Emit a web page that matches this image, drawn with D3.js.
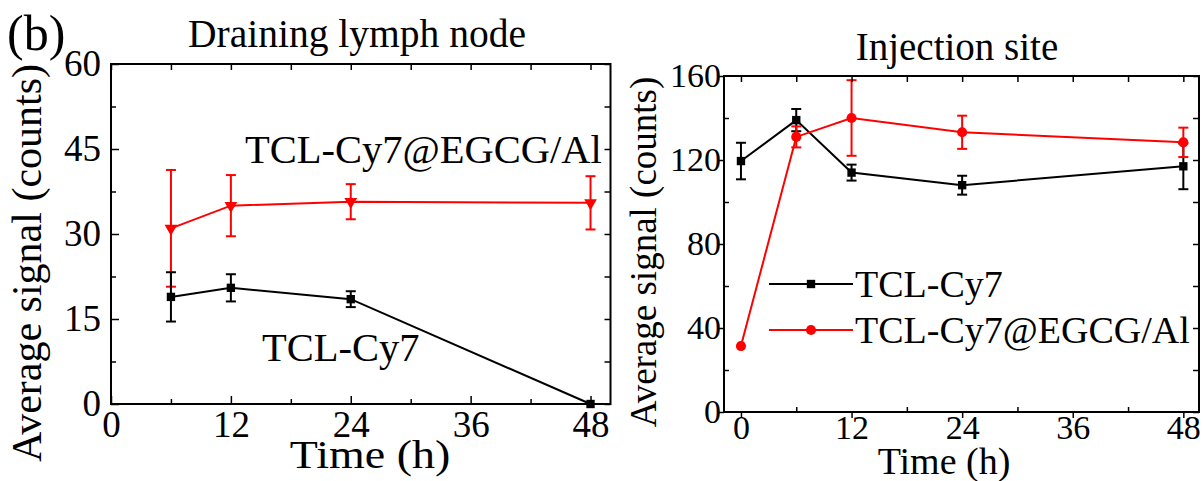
<!DOCTYPE html>
<meta charset="utf-8">
<script src="https://d3js.org/d3.v7.min.js"></script>
<style>
  body { margin: 0; background: #fff; }
  svg text { font-family: "Liberation Serif", "Tinos", "Times New Roman", "Times", "DejaVu Serif", serif !important; fill: #000; }
</style>
<div id="chart"></div>
<script>

// ---- data ----
// panel 1: draining lymph node
var dlnTimes = [6, 12, 24, 48];
var dlnCy7 = [18.9, 20.5, 18.5, 0];
var dlnCy7Err = [4.35, 2.4, 1.4, 0];
var dlnEgcg = [31.0, 35.0, 35.7, 35.5];
var dlnEgcgErr = [10.3, 5.4, 3.1, 4.7];

// panel 2: injection site
var siteTimes = [0, 6, 12, 24, 48];
var siteCy7 = [119.5, 139, 114, 108, 117];
var siteCy7Err = [8.7, 5.3, 3.8, 4.5, 10.9];
var siteEgcg = [31.4, 131, 140, 133.2, 128.4];
var siteEgcgErr = [0, 5, 18, 7.9, 7];

var xMajor = [0, 12, 24, 36, 48];
var xMinor = [6, 18, 30, 42];
var dlnYMajor = [0, 15, 30, 45, 60];
var dlnYMinor = [7.5, 22.5, 37.5, 52.5];
var siteYMajor = [0, 40, 80, 120, 160];
var siteYMinor = [20, 60, 100, 140];

var seriesNames = ["TCL-Cy7", "TCL-Cy7@EGCG/Al"];
var red = "#ff0000";
var serif = "'Liberation Serif', 'Tinos', 'Times New Roman', Times, 'DejaVu Serif', serif";

var svg = d3.select("#chart").append("svg")
    .attr("width", 1203)
    .attr("height", 481)
    .attr("font-family", serif);

// turn parallel arrays into point rows
function rows(t, m, e) {
    return t.map(function(d, i) { return {t: d, v: m[i], e: e[i]}; });
}

// draws line + error bars + markers for one series
function drawSeries(g, x, y, data, color, symbol, size, rotate) {
    g.append("path")
        .datum(data)
        .attr("fill", "none")
        .attr("stroke", color)
        .attr("stroke-width", 2)
        .attr("d", d3.line().x(function(d) { return x(d.t); }).y(function(d) { return y(d.v); }));

    var eb = g.selectAll(null).data(data.filter(function(d) { return d.e > 0; })).enter().append("g")
        .attr("stroke", color).attr("stroke-width", 2);
    eb.append("line")
        .attr("x1", function(d) { return x(d.t); }).attr("x2", function(d) { return x(d.t); })
        .attr("y1", function(d) { return y(d.v - d.e); }).attr("y2", function(d) { return y(d.v + d.e); });
    eb.append("line")
        .attr("x1", function(d) { return x(d.t) - 5; }).attr("x2", function(d) { return x(d.t) + 5; })
        .attr("y1", function(d) { return y(d.v + d.e); }).attr("y2", function(d) { return y(d.v + d.e); });
    eb.append("line")
        .attr("x1", function(d) { return x(d.t) - 5; }).attr("x2", function(d) { return x(d.t) + 5; })
        .attr("y1", function(d) { return y(d.v - d.e); }).attr("y2", function(d) { return y(d.v - d.e); });

    g.selectAll(null).data(data).enter().append("path")
        .attr("d", d3.symbol().type(symbol).size(size))
        .attr("fill", color)
        .attr("transform", function(d) {
            return "translate(" + x(d.t) + "," + y(d.v) + ")" + (rotate ? " rotate(180)" : "");
        });
}

// frame with ticks on all four sides
function drawFrame(g, x, y, yMajor, yMinor, majorOut, fontSize) {
    var x0 = x.range()[0], x1 = x.range()[1], y0 = y.range()[0], y1 = y.range()[1];
    var majLen = majorOut ? 6 : -8;

    var bottom = g.append("g").attr("transform", "translate(0," + y0 + ")")
        .call(d3.axisBottom(x).tickValues(xMajor).tickSizeInner(majLen).tickSizeOuter(0).tickPadding(majorOut ? -3 : 7));
    var bottomMinor = g.append("g").attr("transform", "translate(0," + y0 + ")")
        .call(d3.axisBottom(x).tickValues(xMinor).tickSizeInner(-5).tickSizeOuter(0).tickFormat(""));
    var left = g.append("g").attr("transform", "translate(" + x0 + ",0)")
        .call(d3.axisLeft(y).tickValues(yMajor).tickSizeInner(majLen).tickSizeOuter(0).tickPadding(majorOut ? -3 : 10));
    var leftMinor = g.append("g").attr("transform", "translate(" + x0 + ",0)")
        .call(d3.axisLeft(y).tickValues(yMinor).tickSizeInner(-5).tickSizeOuter(0).tickFormat(""));
    var top = g.append("g").attr("transform", "translate(0," + y1 + ")")
        .call(d3.axisTop(x).tickValues(xMajor.concat(xMinor)).tickSizeInner(-6).tickSizeOuter(0).tickFormat(""));
    var right = g.append("g").attr("transform", "translate(" + x1 + ",0)")
        .call(d3.axisRight(y).tickValues(yMajor.concat(yMinor)).tickSizeInner(-6).tickSizeOuter(0).tickFormat(""));

    [bottom, bottomMinor, left, leftMinor, top, right].forEach(function(a) {
        a.attr("font-family", serif);
        a.select(".domain").remove();
        a.selectAll("line").attr("stroke", "#000").attr("stroke-width", 1.5);
        a.selectAll("text").style("font-size", fontSize + "px");
    });

    g.append("rect")
        .attr("x", x0).attr("y", y1)
        .attr("width", x1 - x0).attr("height", y0 - y1)
        .attr("fill", "none").attr("stroke", "#000").attr("stroke-width", 2);
}

// ---------- panel 1 ----------
var x1 = d3.scaleLinear().domain([0, 50]).range([111, 610.5]);
var y1 = d3.scaleLinear().domain([0, 60]).range([404, 64]);
var g1 = svg.append("g");

drawSeries(g1, x1, y1, rows(dlnTimes, dlnEgcg, dlnEgcgErr), red, d3.symbolTriangle, 70, true);
drawSeries(g1, x1, y1, rows(dlnTimes, dlnCy7, dlnCy7Err), "#000", d3.symbolSquare, 70, false);
drawFrame(g1, x1, y1, dlnYMajor, dlnYMinor, false, 37);

g1.append("text").attr("x", 357).attr("y", 47).attr("text-anchor", "middle")
    .style("font-size", "39.5px").text("Draining lymph node");
g1.append("text").attr("x", 7).attr("y", 50).style("font-size", "50px").text("(b)");
g1.append("text").attr("x", 245).attr("y", 163).style("font-size", "40.5px").text(seriesNames[1]);
g1.append("text").attr("x", 262).attr("y", 361).style("font-size", "40.5px").text(seriesNames[0]);
// the x title in this panel is drawn a bit wider than it is tall
g1.append("text").attr("transform", "translate(370,468) scale(1.15,1)").attr("text-anchor", "middle")
    .style("font-size", "40px").text("Time (h)");
g1.append("text").attr("transform", "translate(41,263) rotate(-90)").attr("text-anchor", "middle")
    .style("font-size", "42px").text("Average signal (counts)");

// ---------- panel 2 ----------
var x2 = d3.scaleLinear().domain([-1.84, 49.7]).range([724, 1199]);
var y2 = d3.scaleLinear().domain([0, 160]).range([412, 76]);
var g2 = svg.append("g");

drawSeries(g2, x2, y2, rows(siteTimes, siteCy7, siteCy7Err), "#000", d3.symbolSquare, 70, false);
drawSeries(g2, x2, y2, rows(siteTimes, siteEgcg, siteEgcgErr), red, d3.symbolCircle, 80, false);
drawFrame(g2, x2, y2, siteYMajor, siteYMinor, true, 34);

g2.append("text").attr("x", 957).attr("y", 60).attr("text-anchor", "middle")
    .style("font-size", "39px").text("Injection site");
g2.append("text").attr("x", 944).attr("y", 474).attr("text-anchor", "middle")
    .style("font-size", "38px").text("Time (h)");
g2.append("text").attr("transform", "translate(656,252) rotate(-90)").attr("text-anchor", "middle")
    .style("font-size", "37px").text("Average signal (counts)");

// legend
var legend = g2.append("g").attr("transform", "translate(769,284)");
var legendItems = [
    {name: seriesNames[0], color: "#000", symbol: d3.symbolSquare, size: 70},
    {name: seriesNames[1], color: red, symbol: d3.symbolCircle, size: 80}
];
var li = legend.selectAll(null).data(legendItems).enter().append("g")
    .attr("transform", function(d, i) { return "translate(0," + (i * 46) + ")"; });
li.append("line").attr("x1", 0).attr("x2", 84).attr("stroke", function(d) { return d.color; }).attr("stroke-width", 2);
li.append("path").attr("transform", "translate(42,0)")
    .attr("d", function(d) { return d3.symbol().type(d.symbol).size(d.size)(); })
    .attr("fill", function(d) { return d.color; });
li.append("text").attr("x", 86).attr("y", 13).style("font-size", "38px").text(function(d) { return d.name; });

</script>
